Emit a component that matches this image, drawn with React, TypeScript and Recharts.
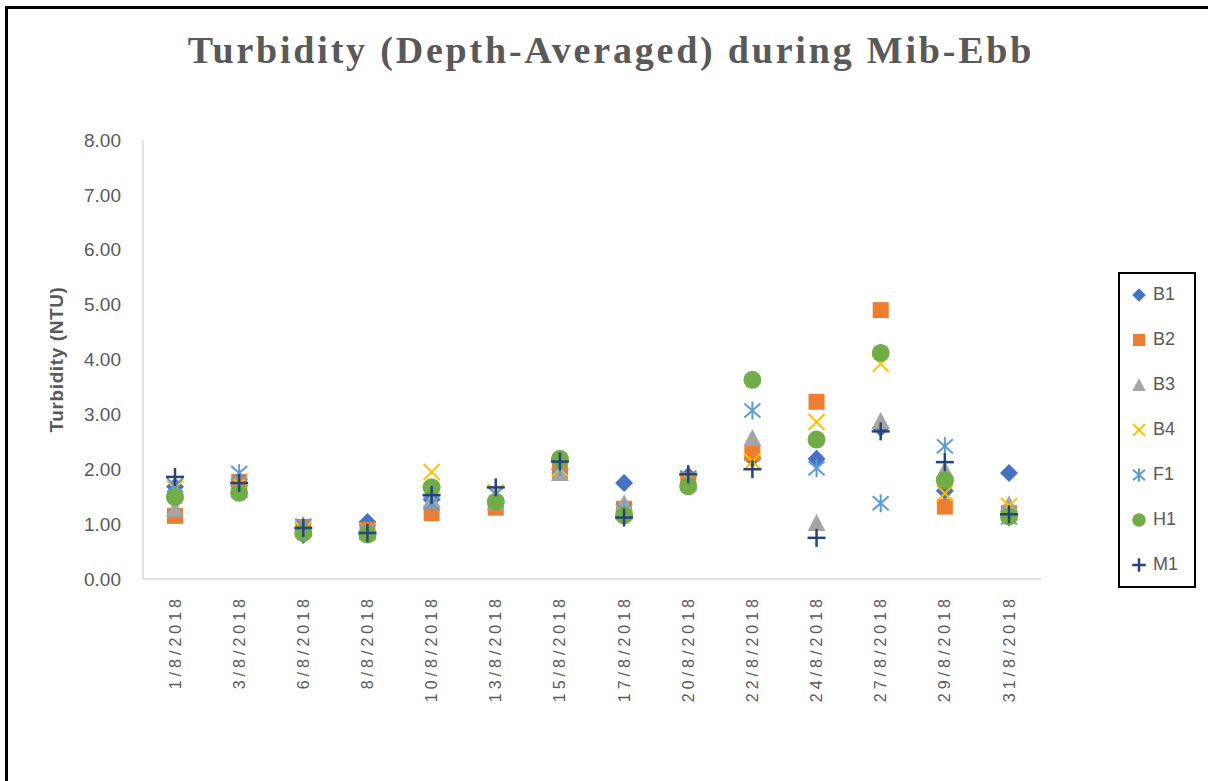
import { ComposedChart, Scatter, XAxis, YAxis, Legend } from "recharts";

const dates = [
  "1/8/2018", "3/8/2018", "6/8/2018", "8/8/2018", "10/8/2018", "13/8/2018", "15/8/2018",
  "17/8/2018", "20/8/2018", "22/8/2018", "24/8/2018", "27/8/2018", "29/8/2018", "31/8/2018",
];

const b1 = [1.68, 1.7, 0.8, 1.04, 1.45, 1.4, 2.0, 1.75, 1.88, 2.2, 2.19, 2.75, 1.61, 1.93];
const b2 = [1.15, 1.77, 0.95, 0.9, 1.2, 1.3, 1.97, 1.28, 1.8, 2.29, 3.23, 4.9, 1.32, 1.2];
const b3 = [1.28, 1.62, 0.9, 0.85, 1.44, 1.4, 1.93, 1.38, 1.75, 2.57, 1.02, 2.88, 1.98, 1.36];
const b4 = [1.65, 1.72, 0.9, 0.86, 1.95, 1.58, 2.02, 1.22, 1.82, 2.14, 2.86, 3.92, 1.56, 1.33];
const f1 = [1.71, 1.93, 0.97, 0.86, 1.38, 1.55, 2.05, 1.25, 1.85, 3.07, 2.02, 1.38, 2.42, 1.12];
const h1 = [1.49, 1.57, 0.84, 0.81, 1.67, 1.41, 2.19, 1.16, 1.69, 3.63, 2.54, 4.12, 1.8, 1.14];
const m1 = [1.86, 1.75, 0.93, 0.84, 1.53, 1.67, 2.14, 1.12, 1.91, 2.0, 0.75, 2.69, 2.13, 1.18];

const yTicks = [0, 1, 2, 3, 4, 5, 6, 7, 8];

const data = dates.map((date, i) => ({
  date,
  B1: b1[i],
  B2: b2[i],
  B3: b3[i],
  B4: b4[i],
  F1: f1[i],
  H1: h1[i],
  M1: m1[i],
}));

type Kind = "diamond" | "square" | "triangle" | "x" | "star" | "circle" | "plus";

const series: { key: string; color: string; kind: Kind }[] = [
  { key: "B1", color: "#4472C4", kind: "diamond" },
  { key: "B2", color: "#ED7D31", kind: "square" },
  { key: "B3", color: "#A5A5A5", kind: "triangle" },
  { key: "B4", color: "#FFC000", kind: "x" },
  { key: "F1", color: "#5B9BD5", kind: "star" },
  { key: "H1", color: "#70AD47", kind: "circle" },
  { key: "M1", color: "#264478", kind: "plus" },
];

const Marker = ({ cx, cy, kind, color, s = 1 }: any) => {
  if (cx == null || cy == null) return null;
  const k = s;
  switch (kind) {
    case "diamond":
      return (
        <path
          d={`M${cx},${cy - 9 * k}L${cx + 9 * k},${cy}L${cx},${cy + 9 * k}L${cx - 9 * k},${cy}Z`}
          fill={color}
        />
      );
    case "square":
      return <rect x={cx - 8 * k} y={cy - 8 * k} width={16 * k} height={16 * k} fill={color} />;
    case "triangle":
      return (
        <path
          d={`M${cx},${cy - 9 * k}L${cx + 9 * k},${cy + 8 * k}L${cx - 9 * k},${cy + 8 * k}Z`}
          fill={color}
        />
      );
    case "x":
      return (
        <g stroke={color} strokeWidth={2}>
          <line x1={cx - 8 * k} y1={cy - 8 * k} x2={cx + 8 * k} y2={cy + 8 * k} />
          <line x1={cx - 8 * k} y1={cy + 8 * k} x2={cx + 8 * k} y2={cy - 8 * k} />
        </g>
      );
    case "star":
      return (
        <g stroke={color} strokeWidth={2}>
          <line x1={cx - 8 * k} y1={cy - 7 * k} x2={cx + 8 * k} y2={cy + 7 * k} />
          <line x1={cx - 8 * k} y1={cy + 7 * k} x2={cx + 8 * k} y2={cy - 7 * k} />
          <line x1={cx} y1={cy - 9 * k} x2={cx} y2={cy + 9 * k} />
        </g>
      );
    case "circle":
      return <circle cx={cx} cy={cy} r={9 * k} fill={color} />;
    case "plus":
      return (
        <g stroke={color} strokeWidth={2.5}>
          <line x1={cx - 9 * k} y1={cy} x2={cx + 9 * k} y2={cy} />
          <line x1={cx} y1={cy - 9 * k} x2={cx} y2={cy + 9 * k} />
        </g>
      );
  }
  return null;
};

const DateTick = ({ x, y, payload }: any) => (
  <text
    x={x}
    y={y + 8}
    transform={`rotate(-90, ${x}, ${y + 8})`}
    textAnchor="end"
    dominantBaseline="central"
    fill="#595959"
    fontSize={16}
    letterSpacing={4}
    fontFamily="Liberation Sans, Arial, sans-serif"
  >
    {payload.value}
  </text>
);

const LegendBox = () => (
  <div
    style={{
      width: 74,
      height: 310,
      border: "2px solid #000",
      background: "#fff",
      boxSizing: "content-box",
      paddingTop: 2,
    }}
  >
    <div style={{ marginTop: -4 }}>
      {series.map((s) => (
        <div key={s.key} style={{ display: "flex", alignItems: "center", height: 45 }}>
          <svg width={30} height={20}>
            <Marker cx={19} cy={10} kind={s.kind} color={s.color} s={0.75} />
          </svg>
          <span
            style={{
              fontFamily: "Liberation Sans, Arial, sans-serif",
              fontSize: 18,
              color: "#595959",
              marginLeft: 3,
            }}
          >
            {s.key}
          </span>
        </div>
      ))}
    </div>
  </div>
);

export default function App() {
  return (
    <div style={{ position: "absolute", left: 0, top: 0, width: 1210, height: 781, background: "#fff", overflow: "hidden" }}>
      <div
        style={{
          position: "absolute",
          left: 5,
          top: 6,
          width: 1200,
          height: 775,
          borderTop: "3px solid #000",
          borderLeft: "3px solid #000",
        }}
      />
      <div
        style={{
          position: "absolute",
          left: 0,
          top: 28,
          width: 1222,
          textAlign: "center",
          fontFamily: "Liberation Serif, Times New Roman, serif",
          fontWeight: "bold",
          fontSize: 38,
          letterSpacing: 2.8,
          color: "#595959",
        }}
      >
        Turbidity (Depth-Averaged) during Mib-Ebb
      </div>
      <ComposedChart
        width={1210}
        height={781}
        data={data}
        margin={{ top: 140, right: 169, bottom: 92, left: 43 }}
        style={{ position: "absolute", left: 0, top: 0 }}
      >
        <XAxis
          dataKey="date"
          type="category"
          height={110}
          padding={{ left: 32, right: 32 }}
          axisLine={{ stroke: "#d9d9d9", strokeWidth: 1.5 }}
          tickLine={false}
          tick={<DateTick />}
          interval={0}
        />
        <YAxis
          type="number"
          domain={[0, 8]}
          ticks={yTicks}
          width={100}
          axisLine={{ stroke: "#d9d9d9", strokeWidth: 1.5 }}
          tickLine={false}
          tickSize={0}
          tickMargin={22}
          tickFormatter={(v: number) => v.toFixed(2)}
          tick={{ fill: "#595959", fontSize: 19, fontFamily: "Liberation Sans, Arial, sans-serif" }}
          label={{
            value: "Turbidity (NTU)",
            angle: -90,
            position: "insideLeft",
            offset: 13,
            fill: "#595959",
            fontSize: 19,
            fontWeight: "bold",
            letterSpacing: 0.6,
            fontFamily: "Liberation Sans, Arial, sans-serif",
            style: { textAnchor: "middle" },
          }}
        />
        <Legend
          layout="vertical"
          align="center"
          verticalAlign="middle"
          content={<LegendBox />}
          wrapperStyle={{ position: "absolute", left: 1118, top: 272, width: 78 }}
        />
        {series.map((s) => (
          <Scatter
            key={s.key}
            dataKey={s.key}
            name={s.key}
            fill={s.color}
            isAnimationActive={false}
            shape={(p: any) => <Marker cx={p.cx} cy={p.cy} kind={s.kind} color={s.color} />}
          />
        ))}
      </ComposedChart>
    </div>
  );
}
